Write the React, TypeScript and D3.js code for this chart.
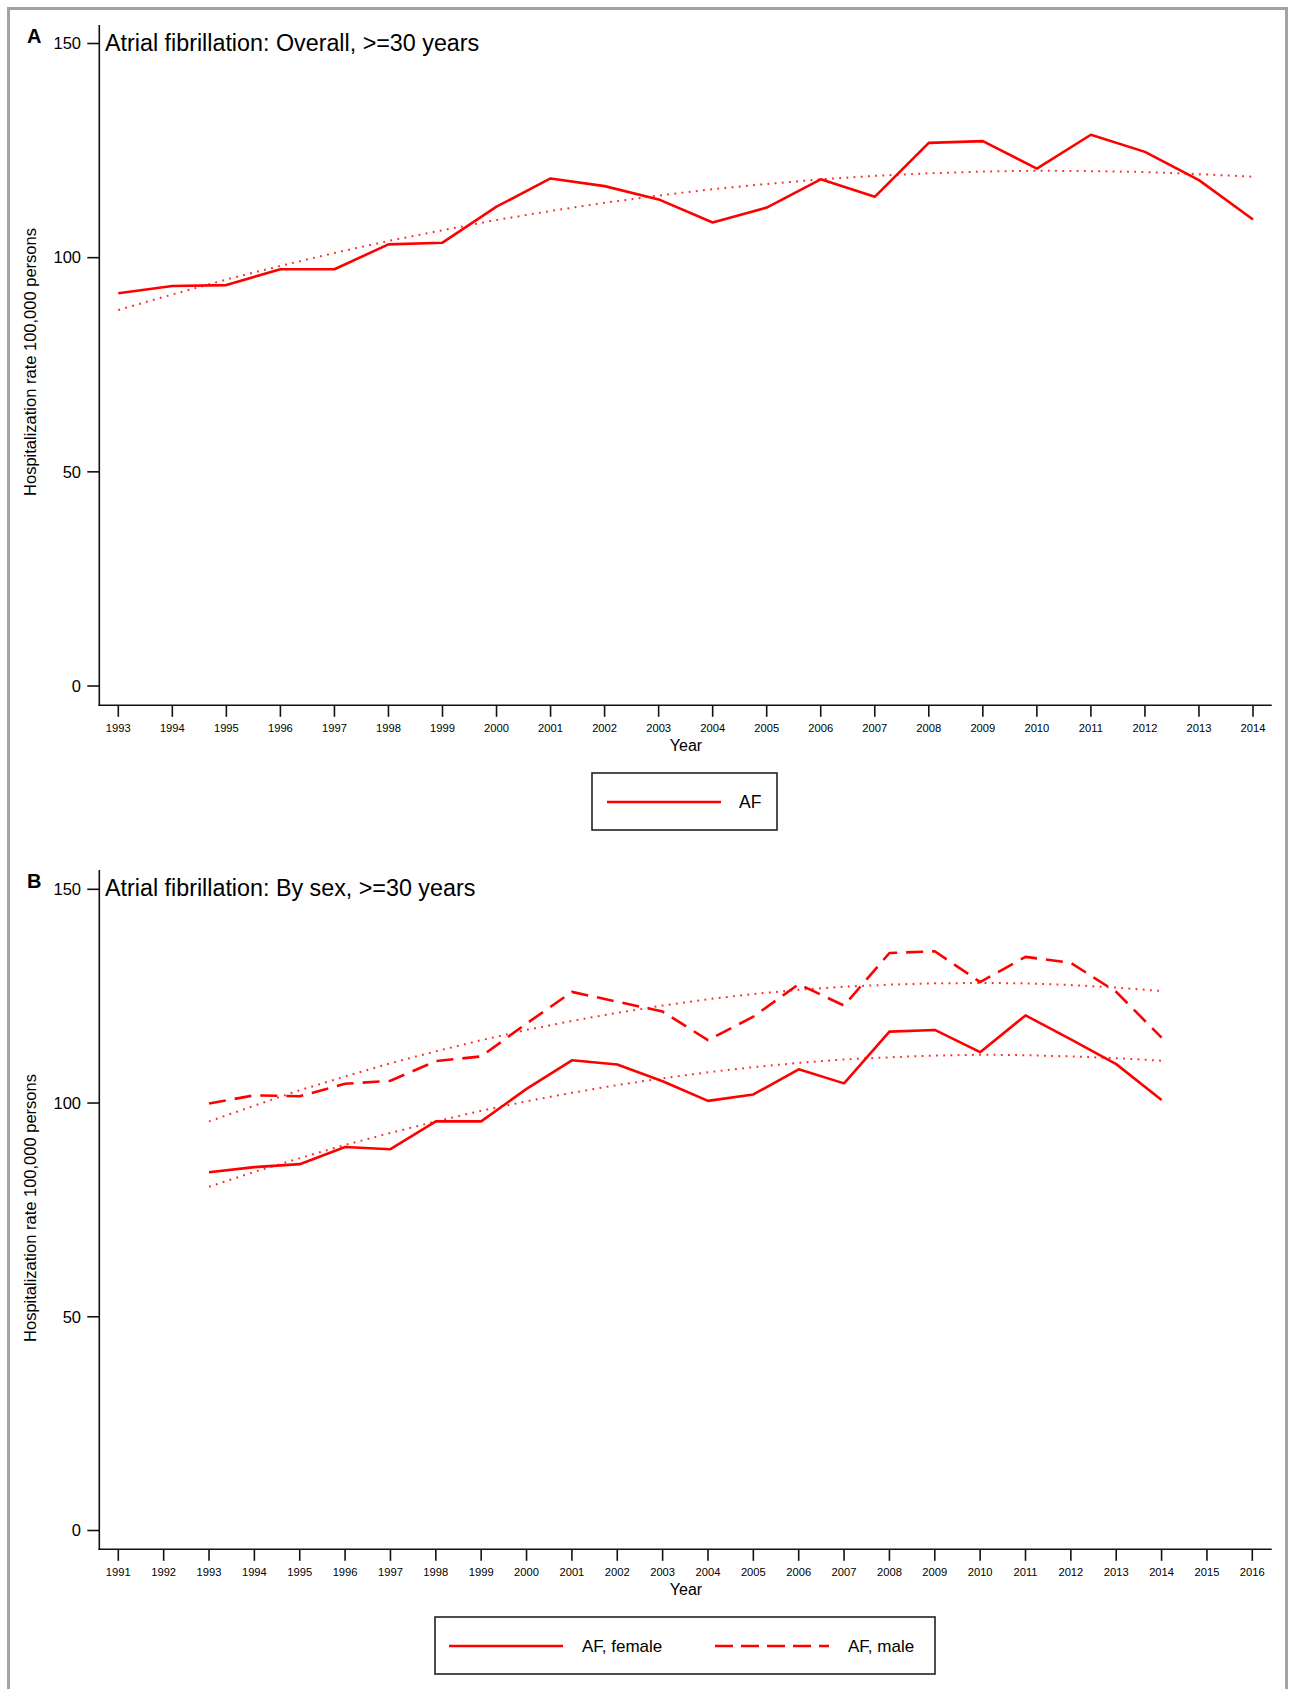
import React from "react";
import * as d3 from "d3";

// ---------- Data ----------
const yearsA = [1993,1994,1995,1996,1997,1998,1999,2000,2001,2002,2003,2004,2005,2006,2007,2008,2009,2010,2011,2012,2013,2014];
const afOverall = [91.7,93.4,93.6,97.3,97.3,103.1,103.5,111.9,118.5,116.7,113.6,108.2,111.7,118.3,114.2,126.8,127.2,120.8,128.7,124.7,118.1,108.9];
const afOverallFit = [87.8,91.4,94.9,98.1,101.1,103.9,106.4,108.8,110.9,112.8,114.5,116.0,117.2,118.3,119.1,119.7,120.1,120.3,120.2,120.0,119.5,118.9];

const yearsB = yearsA;
const afFemale = [83.8,85.0,85.7,89.7,89.2,95.7,95.7,103.3,110.0,109.0,105.1,100.5,102.0,107.9,104.6,116.7,117.1,111.9,120.5,114.9,109.1,100.7];
const afFemaleFit = [80.4,83.9,87.1,90.2,93.0,95.7,98.2,100.4,102.4,104.2,105.8,107.2,108.4,109.4,110.2,110.7,111.1,111.3,111.2,110.9,110.5,109.9];
const afMale = [99.9,101.8,101.6,104.5,105.2,109.8,110.9,118.6,126.0,123.7,121.4,114.7,120.2,127.8,122.8,135.1,135.5,128.3,134.2,132.8,126.0,115.3];
const afMaleFit = [95.7,99.4,103.0,106.2,109.3,112.1,114.7,117.1,119.2,121.1,122.8,124.3,125.5,126.5,127.2,127.7,128.0,128.1,128.0,127.6,127.0,126.2];

const yTicks = [0, 50, 100, 150];
const xTicksA = d3.range(1993, 2015);
const xTicksB = d3.range(1991, 2017);

const FONT = "'Liberation Sans', Arial, Helvetica, sans-serif";
const RED = "#ff0000";

type Series = { x: number[]; y: number[]; dash?: string; width: number; opacity?: number };

function Panel(props: {
  letter: string; title: string; xTicks: number[]; xRange: [number, number];
  y150: number; y0: number; axisTop: number; xAxisY: number;
  series: Series[]; yLabelY: number;
}) {
  const { letter, title, xTicks, xRange, y150, y0, axisTop, xAxisY, series } = props;
  const x = d3.scaleLinear().domain([xTicks[0], xTicks[xTicks.length - 1]]).range(xRange);
  const y = d3.scaleLinear().domain([0, 150]).range([y0, y150]);
  const axisX = 99.3;
  const axisRight = 1271.7;
  return (
    <g>
      <text x={27} y={y150 - 1} fontFamily={FONT} fontWeight="bold" fontSize={20}>{letter}</text>
      <text x={105} y={y150 + 7} fontFamily={FONT} fontSize={23.3}>{title}</text>
      {series.map((s, i) => {
        const line = d3.line<number>().x((_, j) => x(s.x[j])).y((d) => y(d));
        return (
          <path key={i} d={line(s.y) || ""} fill="none" stroke={RED} strokeWidth={s.width}
            strokeDasharray={s.dash} strokeOpacity={s.opacity ?? 1} strokeLinejoin="round" />
        );
      })}
      {/* y axis */}
      <line x1={axisX} x2={axisX} y1={axisTop} y2={xAxisY + 0.75} stroke="#111" strokeWidth={1.6} />
      {yTicks.map((t) => (
        <g key={t}>
          <line x1={axisX - 12} x2={axisX} y1={y(t)} y2={y(t)} stroke="#111" strokeWidth={1.6} />
          <text x={81} y={y(t) + 5.8} textAnchor="end" fontFamily={FONT} fontSize={16.5}>{t}</text>
        </g>
      ))}
      {/* x axis */}
      <line x1={axisX - 0.8} x2={axisRight} y1={xAxisY} y2={xAxisY} stroke="#111" strokeWidth={1.6} />
      {xTicks.map((t) => (
        <g key={t}>
          <line x1={x(t)} x2={x(t)} y1={xAxisY} y2={xAxisY + 11.5} stroke="#111" strokeWidth={1.6} />
          <text x={x(t)} y={xAxisY + 27} textAnchor="middle" fontFamily={FONT} fontSize={11.2}>{t}</text>
        </g>
      ))}
      <text x={686} y={xAxisY + 46} textAnchor="middle" fontFamily={FONT} fontSize={16}>Year</text>
      <text transform={`translate(36,${props.yLabelY}) rotate(-90)`} textAnchor="middle" fontFamily={FONT} fontSize={16.5}>
        Hospitalization rate 100,000 persons
      </text>
    </g>
  );
}

export default function App() {
  const dotted = "1.8,5.4";
  return (
    <svg width={1289} height={1689} style={{ position: "absolute", left: 0, top: 0, background: "#fff" }}>
      <rect x={8.5} y={8.5} width={1278} height={1700} fill="#fff" stroke="#a3a3a3" strokeWidth={3} />
      <Panel letter="A" title="Atrial fibrillation: Overall, >=30 years" xTicks={xTicksA} xRange={[118.3, 1253]}
        y150={43.5} y0={686} axisTop={25} xAxisY={705.3} yLabelY={362}
        series={[
          { x: yearsA, y: afOverallFit, dash: dotted, width: 2, opacity: 0.85 },
          { x: yearsA, y: afOverall, width: 2.6 },
        ]} />
      {/* Legend A */}
      <rect x={592} y={773} width={185} height={57} fill="none" stroke="#222" strokeWidth={1.6} />
      <line x1={607} x2={721} y1={802} y2={802} stroke={RED} strokeWidth={2.6} />
      <text x={739} y={808} fontFamily={FONT} fontSize={17.5}>AF</text>

      <Panel letter="B" title="Atrial fibrillation: By sex, >=30 years" xTicks={xTicksB} xRange={[118.3, 1252.3]}
        y150={889.3} y0={1530.5} axisTop={870} xAxisY={1549.3} yLabelY={1208}
        series={[
          { x: yearsB, y: afMaleFit, dash: dotted, width: 2, opacity: 0.85 },
          { x: yearsB, y: afFemaleFit, dash: dotted, width: 2, opacity: 0.85 },
          { x: yearsB, y: afFemale, width: 2.6 },
          { x: yearsB, y: afMale, width: 2.6, dash: "17,9" },
        ]} />
      {/* Legend B */}
      <rect x={435} y={1617} width={500} height={57} fill="none" stroke="#222" strokeWidth={1.6} />
      <line x1={449} x2={563} y1={1646} y2={1646} stroke={RED} strokeWidth={2.6} />
      <text x={582} y={1652} fontFamily={FONT} fontSize={17}>AF, female</text>
      <line x1={715} x2={829} y1={1646} y2={1646} stroke={RED} strokeWidth={2.6} strokeDasharray="18,8" />
      <text x={848} y={1652} fontFamily={FONT} fontSize={17}>AF, male</text>
    </svg>
  );
}
